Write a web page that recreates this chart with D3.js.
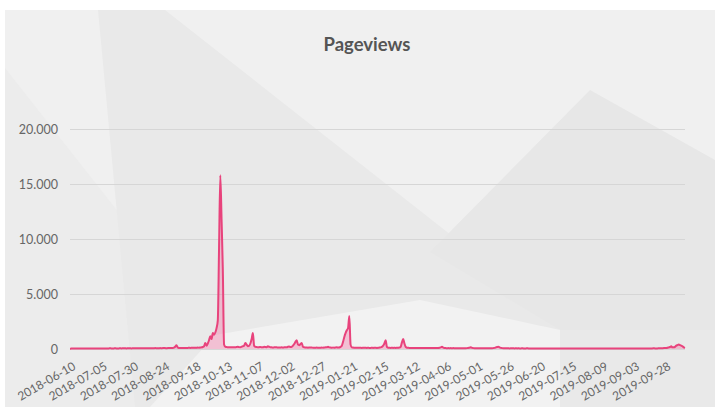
<!DOCTYPE html>
<html>
<head>
<meta charset="utf-8">
<script src="https://cdn.jsdelivr.net/npm/d3@7/dist/d3.min.js"></script>
<style>
  html, body { margin: 0; padding: 0; background: #ffffff; }
  svg { display: block; }
</style>
</head>
<body>
<svg id="chart" width="715" height="407"></svg>
<script>
// ---------------- DATA ----------------
const chartTitle = "Pageviews";
const startDate = "2018-06-10";
// daily pageviews, one value per day from 2018-06-10
const pageviews = [
  30,35,40,35,40,45,40,35,40,45,
  40,45,50,45,40,45,50,45,50,55,
  50,45,50,55,50,45,50,55,50,45,
  50,55,60,55,50,55,60,55,50,55,
  60,55,60,65,60,55,60,65,60,55,
  60,65,70,65,60,65,70,65,70,75,
  70,65,70,75,70,65,70,75,80,75,
  70,75,80,75,80,85,80,75,80,85,
  90,85,90,120,200,350,150,90,85,90,
  95,90,100,95,100,110,100,105,110,120,
  110,120,130,120,140,150,180,250,550,300,
  500,800,1150,900,1450,1300,1500,1900,2600,9200,
  15800,11800,7300,400,200,180,150,170,160,150,
  160,170,150,180,200,170,160,200,250,300,
  550,400,250,300,500,900,1450,300,200,180,
  160,170,180,150,160,200,180,170,250,200,
  160,150,140,150,160,150,140,130,140,150,
  140,150,160,150,200,220,180,200,300,450,
  650,800,400,350,450,550,200,150,140,130,
  120,130,140,130,120,110,120,130,120,110,
  120,130,120,140,150,160,200,150,130,120,
  130,120,140,150,130,140,200,300,650,1100,
  1450,1700,1900,3000,400,150,130,120,110,120,
  110,120,110,100,110,120,110,100,110,100,
  100,110,100,120,110,100,110,130,150,200,
  300,500,800,200,120,110,100,110,100,110,
  100,110,120,130,200,600,900,500,200,120,
  110,100,100,90,100,90,100,90,80,90,
  90,80,90,80,90,100,90,80,90,80,
  80,90,80,90,100,120,150,200,120,90,
  80,70,80,70,80,70,80,70,75,70,
  70,75,70,65,70,75,70,80,100,120,
  150,100,80,70,65,70,65,60,65,70,
  65,60,65,70,65,60,65,70,80,100,
  150,180,200,150,100,80,70,65,60,65,
  60,55,60,65,60,55,60,55,60,55,
  55,60,55,50,55,60,55,50,55,50,
  50,55,50,55,50,45,50,55,50,45,
  50,45,50,55,50,45,50,45,50,55,
  50,45,50,45,50,55,50,45,50,45,
  45,50,45,50,45,50,45,50,45,50,
  45,50,55,50,45,50,45,50,45,50,
  50,45,50,45,50,55,50,45,50,45,
  45,50,45,50,45,50,45,50,45,50,
  50,45,50,45,50,55,50,45,50,45,
  45,50,45,50,45,50,55,50,45,50,
  50,55,50,45,50,55,60,55,50,55,
  60,65,60,70,80,90,100,120,150,180,
  250,150,150,200,300,350,400,350,300,250,
  150,100
];
const xTickLabels = [
  "2018-06-10","2018-07-05","2018-07-30","2018-08-24","2018-09-18",
  "2018-10-13","2018-11-07","2018-12-02","2018-12-27","2019-01-21",
  "2019-02-15","2019-03-12","2019-04-06","2019-05-01","2019-05-26",
  "2019-06-20","2019-07-15","2019-08-09","2019-09-03","2019-09-28"
];
const yTickValues = [0, 5000, 10000, 15000, 20000];

// ---------------- CHART ----------------
const svg = d3.select("#chart");
const W = 715, H = 407;
const plot = { left: 70, right: 685, top: 129, bottom: 349 };

const parse = d3.utcParse("%Y-%m-%d");
const fmtDay = d3.utcFormat("%Y-%m-%d");
const t0 = parse(startDate);
const data = pageviews.map((v, i) => ({ date: d3.utcDay.offset(t0, i), value: v }));

const x = d3.scaleUtc()
  .domain([data[0].date, data[data.length - 1].date])
  .range([plot.left, plot.right]);
const y = d3.scaleLinear().domain([0, 20000]).range([plot.bottom, plot.top]);

const locale = d3.formatLocale({ decimal: ",", thousands: ".", grouping: [3], currency: ["", ""] });
const fmtY = locale.format(",d");

// background
svg.append("rect").attr("x", 0).attr("y", 0).attr("width", W).attr("height", H).attr("fill", "#ffffff");
svg.append("rect").attr("x", 5).attr("y", 10).attr("width", W - 5).attr("height", H - 10).attr("fill", "#f0f0f0");
const bgShapes = [
  { pts: [[5, 68], [5, 407], [150, 407], [215, 335]], fill: "#ececec" },
  { pts: [[98, 10], [165, 10], [470, 250], [560, 330], [715, 330], [715, 407], [135, 407]], fill: "#e9e9e9" },
  { pts: [[430, 252], [590, 90], [715, 160], [715, 330], [560, 330]], fill: "#e7e7e7" },
  { pts: [[150, 407], [215, 335], [420, 300], [560, 330], [560, 407]], fill: "#f2f2f2" }
];
svg.append("g").selectAll("polygon").data(bgShapes).join("polygon")
  .attr("points", d => d.pts.map(p => p.join(",")).join(" "))
  .attr("fill", d => d.fill);

// title
svg.append("text")
  .attr("x", 367).attr("y", 51)
  .attr("text-anchor", "middle")
  .attr("font-family", "Lato, 'Open Sans', sans-serif")
  .attr("font-weight", "bold")
  .attr("font-size", 18.5)
  .attr("fill", "#555")
  .text(chartTitle);

// y grid + labels
const yAxis = d3.axisLeft(y).tickValues(yTickValues).tickFormat(fmtY)
  .tickSize(-(plot.right - plot.left)).tickPadding(12);
const gy = svg.append("g").attr("transform", `translate(${plot.left},0)`).call(yAxis);
gy.select(".domain").remove();
gy.selectAll(".tick line").attr("stroke", "#d6d6d6").attr("stroke-width", 1);
gy.selectAll(".tick text")
  .attr("font-family", "Lato, 'Open Sans', sans-serif")
  .attr("font-size", 12.5)
  .attr("fill", "#666");

// x axis labels
const tickDates = xTickLabels.map(parse);
const xAxis = d3.axisBottom(x).tickValues(tickDates).tickFormat(fmtDay).tickSize(0).tickPadding(0);
const gx = svg.append("g").attr("transform", `translate(0,${plot.bottom})`).call(xAxis);
gx.select(".domain").remove();
gx.selectAll(".tick text")
  .attr("font-family", "Lato, 'Open Sans', sans-serif")
  .attr("font-size", 12)
  .attr("fill", "#666")
  .attr("text-anchor", "end")
  .attr("transform", "translate(4,16) rotate(-30)")
  .attr("dy", "0.35em");

// area + line
const area = d3.area().x(d => x(d.date)).y0(y(0)).y1(d => y(d.value)).curve(d3.curveMonotoneX);
const line = d3.line().x(d => x(d.date)).y(d => y(d.value)).curve(d3.curveMonotoneX);
svg.append("path").datum(data).attr("d", area).attr("fill", "rgba(242,110,160,0.38)");
svg.append("path").datum(data).attr("d", line)
  .attr("fill", "none").attr("stroke", "#e8437c").attr("stroke-width", 2)
  .attr("stroke-linejoin", "round");
</script>
</body>
</html>
